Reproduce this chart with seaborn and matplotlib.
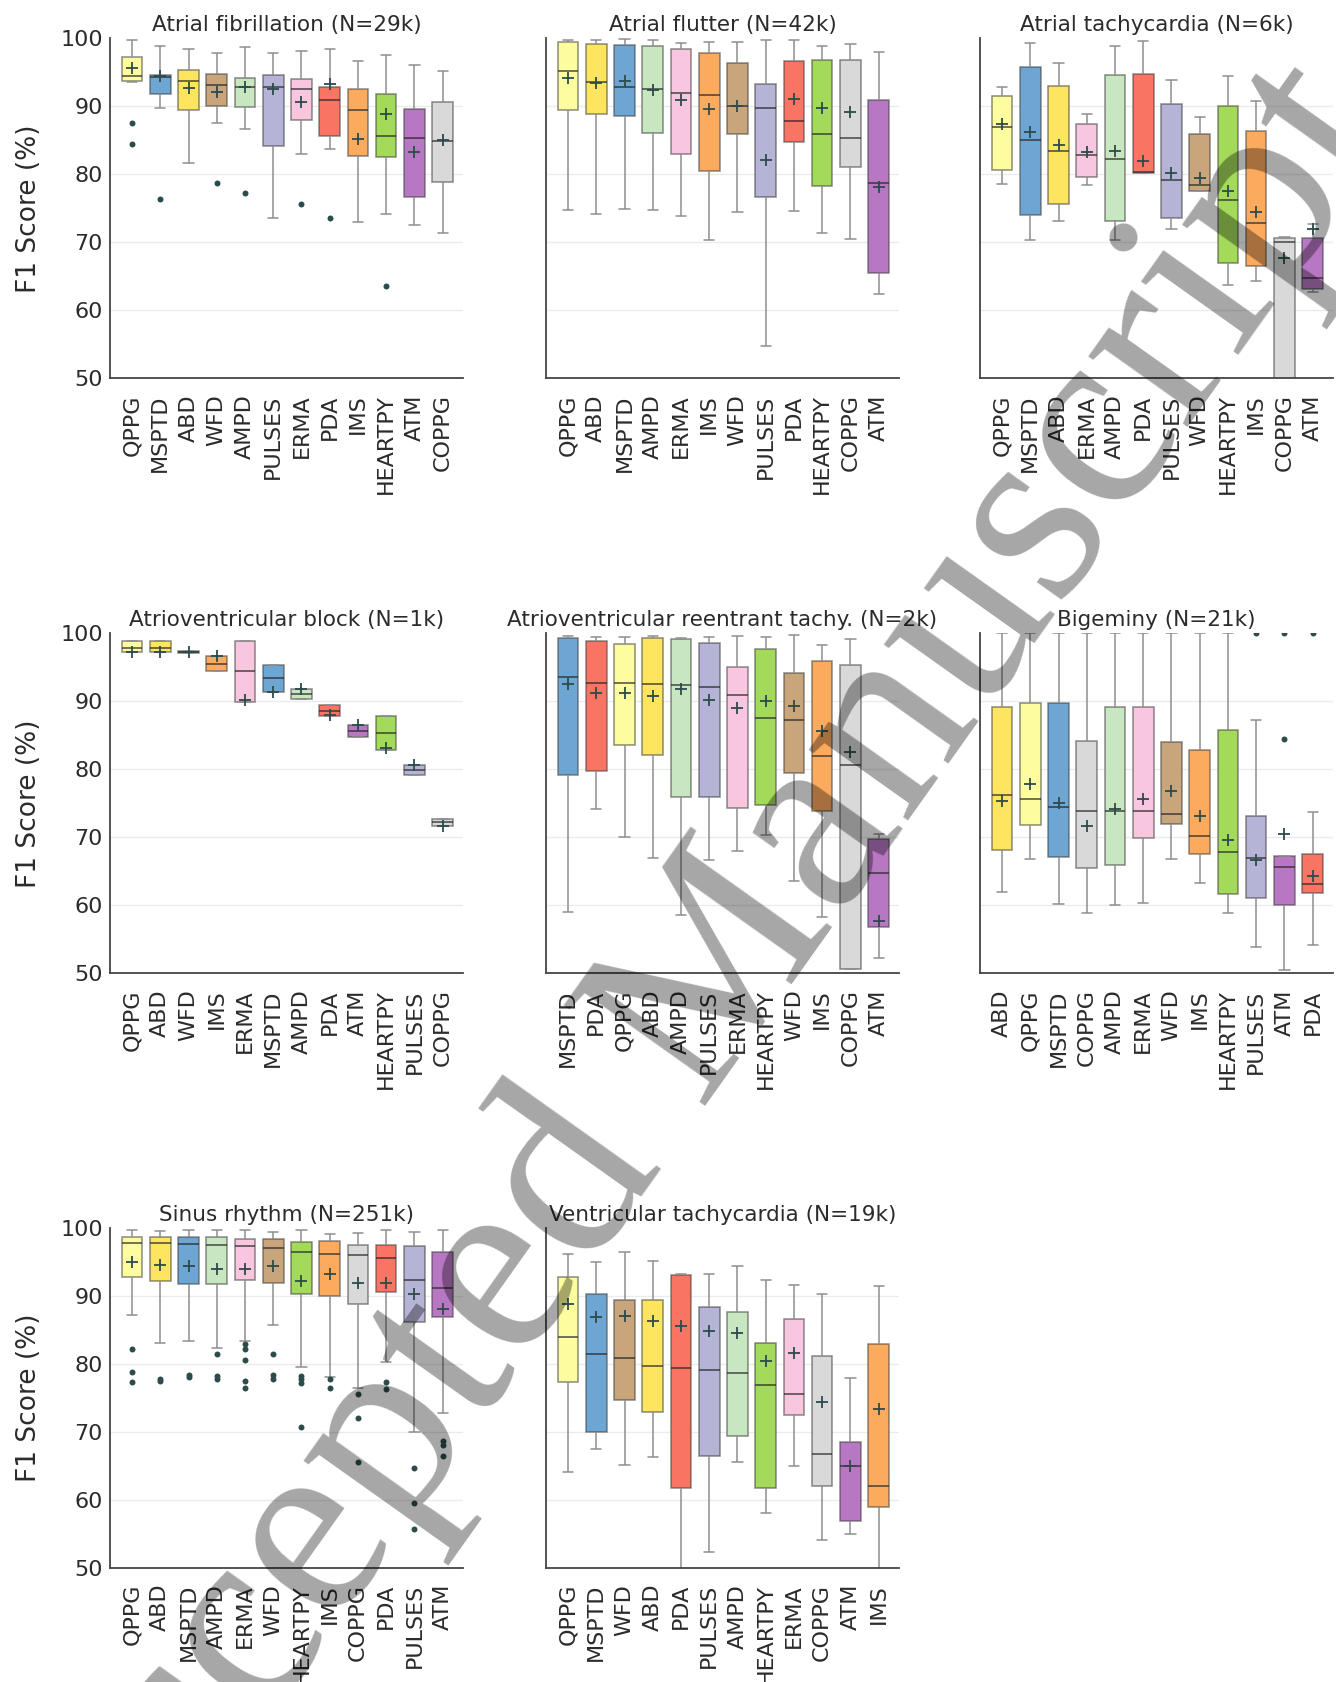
import numpy as np
import pandas as pd
import matplotlib
matplotlib.use("Agg")
import matplotlib.pyplot as plt
import seaborn as sns

# ---------------- colours per method ----------------
METHOD_COLORS = {
    "QPPG": "#fdfd9f", "MSPTD": "#6da5d3", "ABD": "#fde55f", "WFD": "#c9a57c",
    "AMPD": "#c8e6c0", "PULSES": "#b5b3d6", "ERMA": "#f9c6df", "PDA": "#fa7464",
    "IMS": "#fcab5e", "HEARTPY": "#a4da5a", "ATM": "#b877c2", "COPPG": "#d9d9d9",
}

# ---------------- data: five-number summaries [low whisker, Q1, median, Q3, high whisker] ----------------
AF_TITLE = "Atrial fibrillation (N=29k)"
AF_ORDER = ["QPPG", "MSPTD", "ABD", "WFD", "AMPD", "PULSES", "ERMA", "PDA", "IMS", "HEARTPY", "ATM", "COPPG"]
AF_STATS = [[93.6, 93.7, 94.5, 97.2, 99.75], [89.7, 91.8, 94.3, 94.6, 98.8], [81.6, 89.5, 93.7, 95.4, 98.5],
            [87.5, 90.0, 93.2, 94.7, 97.8], [86.6, 89.9, 92.9, 94.2, 98.7], [73.5, 84.1, 92.8, 94.6, 97.8],
            [83.0, 88.0, 92.6, 94.0, 98.2], [83.7, 85.6, 91.0, 92.8, 98.5], [73.0, 82.7, 89.4, 92.5, 96.7],
            [74.1, 82.5, 85.7, 91.8, 97.5], [72.6, 76.6, 85.3, 89.6, 96.1], [71.3, 78.9, 84.9, 90.7, 95.2]]
AF_MEAN = [95.7, 94.4, 92.7, 92.1, 92.8, 92.5, 90.7, 93.3, 85.2, 88.9, 83.3, 85.0]
AF_OUT_M = ["QPPG", "QPPG", "MSPTD", "WFD", "AMPD", "ERMA", "PDA", "HEARTPY"]
AF_OUT_V = [87.6, 84.4, 76.4, 78.7, 77.2, 75.6, 73.5, 63.6]

AFL_TITLE = "Atrial flutter (N=42k)"
AFL_ORDER = ["QPPG", "ABD", "MSPTD", "AMPD", "ERMA", "IMS", "WFD", "PULSES", "PDA", "HEARTPY", "COPPG", "ATM"]
AFL_STATS = [[74.8, 89.5, 95.2, 99.5, 99.75], [74.2, 88.8, 93.6, 99.1, 99.75], [74.95, 88.6, 92.9, 99.0, 99.85],
             [74.7, 86.1, 92.5, 98.8, 99.75], [73.8, 83.0, 91.9, 98.5, 99.3], [70.3, 80.5, 91.6, 97.8, 99.4],
             [74.4, 86.0, 90.0, 96.4, 99.5], [54.8, 76.6, 89.7, 93.3, 99.75], [74.6, 84.7, 87.9, 96.6, 99.75],
             [71.3, 78.3, 85.9, 96.8, 98.9], [70.5, 81.1, 85.3, 96.8, 99.1], [62.4, 65.5, 78.7, 90.9, 98.0]]
AFL_MEAN = [94.1, 93.4, 93.7, 92.4, 91.0, 89.6, 90.0, 82.1, 91.1, 89.7, 89.2, 78.2]
AFL_OUT_M = []
AFL_OUT_V = []

AT_TITLE = "Atrial tachycardia (N=6k)"
AT_ORDER = ["QPPG", "MSPTD", "ABD", "ERMA", "AMPD", "PDA", "PULSES", "WFD", "HEARTPY", "IMS", "COPPG", "ATM"]
AT_STATS = [[78.6, 80.7, 87.0, 91.5, 92.9], [70.3, 74.0, 85.1, 95.8, 99.3], [73.1, 75.7, 83.4, 93.0, 96.3],
            [78.4, 79.6, 82.9, 87.4, 88.9], [70.3, 73.2, 82.2, 94.6, 98.8], [80.2, 80.2, 80.3, 94.8, 99.6],
            [71.9, 73.6, 79.1, 90.3, 93.8], [77.5, 77.6, 78.5, 86.0, 88.4], [63.7, 66.9, 76.2, 90.0, 94.5],
            [64.3, 66.5, 72.9, 86.3, 90.8], [45.0, 48.0, 70.0, 70.7, 70.8], [62.7, 63.1, 64.8, 70.7, 72.7]]
AT_MEAN = [87.4, 86.2, 84.3, 83.3, 83.5, 82.0, 80.2, 79.4, 77.6, 74.4, 67.7, 71.9]
AT_OUT_M = []
AT_OUT_V = []

AVB_TITLE = "Atrioventricular block (N=1k)"
AVB_ORDER = ["QPPG", "ABD", "WFD", "IMS", "ERMA", "MSPTD", "AMPD", "PDA", "ATM", "HEARTPY", "PULSES", "COPPG"]
AVB_STATS = [[97.2, 97.2, 97.9, 98.8, 98.8], [97.2, 97.2, 97.9, 98.8, 98.8], [97.15, 97.15, 97.25, 97.35, 97.35],
             [94.4, 94.4, 95.5, 96.7, 96.7], [89.9, 89.9, 94.4, 98.8, 98.8], [91.3, 91.3, 93.4, 95.3, 95.3],
             [90.3, 90.3, 91.1, 91.8, 91.8], [87.9, 87.9, 88.6, 89.4, 89.4], [84.7, 84.7, 85.6, 86.5, 86.5],
             [82.9, 82.9, 85.4, 87.9, 87.9], [79.2, 79.2, 79.9, 80.6, 80.6], [71.6, 71.6, 72.2, 72.7, 72.7]]
AVB_MEAN = [97.2, 97.2, 97.2, 96.6, 90.2, 91.4, 91.8, 88.0, 86.5, 83.1, 80.6, 71.6]
AVB_OUT_M = []
AVB_OUT_V = []

AVRT_TITLE = "Atrioventricular reentrant tachy. (N=2k)"
AVRT_ORDER = ["MSPTD", "PDA", "QPPG", "ABD", "AMPD", "PULSES", "ERMA", "HEARTPY", "WFD", "IMS", "COPPG", "ATM"]
AVRT_STATS = [[59.0, 79.2, 93.6, 99.3, 99.65], [74.2, 79.8, 92.7, 98.8, 99.4], [70.0, 83.6, 92.7, 98.4, 99.5],
              [66.9, 82.1, 92.5, 99.3, 99.6], [58.6, 75.9, 92.4, 99.1, 99.3], [66.6, 75.9, 92.1, 98.6, 99.5],
              [68.0, 74.3, 90.9, 95.0, 99.65], [70.3, 74.8, 87.5, 97.7, 99.5], [63.6, 79.5, 87.3, 94.1, 99.7],
              [58.3, 73.9, 82.0, 96.0, 98.3], [50.6, 50.6, 80.6, 95.3, 99.1], [52.2, 56.8, 64.7, 69.8, 70.5]]
AVRT_MEAN = [92.5, 91.2, 91.2, 90.8, 91.8, 90.2, 89.0, 90.1, 89.3, 85.6, 82.6, 57.7]
AVRT_OUT_M = []
AVRT_OUT_V = []

BIG_TITLE = "Bigeminy (N=21k)"
BIG_ORDER = ["ABD", "QPPG", "MSPTD", "COPPG", "AMPD", "ERMA", "WFD", "IMS", "HEARTPY", "PULSES", "ATM", "PDA"]
BIG_STATS = [[61.9, 68.2, 76.2, 89.1, 100.0], [66.8, 71.8, 75.7, 89.7, 100.0], [60.2, 67.1, 74.5, 89.7, 100.0],
             [58.9, 65.5, 73.9, 84.2, 100.0], [60.1, 66.0, 73.9, 89.2, 100.0], [60.3, 69.9, 73.8, 89.1, 100.0],
             [66.8, 71.9, 73.5, 84.0, 100.0], [63.3, 67.6, 70.2, 82.8, 100.0], [58.8, 61.7, 67.8, 85.8, 100.0],
             [53.9, 61.1, 67.0, 73.2, 87.2], [50.5, 60.0, 65.7, 67.3, 67.3], [54.2, 61.8, 63.1, 67.6, 73.7]]
BIG_MEAN = [75.4, 77.9, 75.0, 71.6, 74.2, 75.6, 76.8, 73.2, 69.6, 66.6, 70.5, 64.3]
BIG_OUT_M = ["PULSES", "ATM", "ATM", "PDA"]
BIG_OUT_V = [100.0, 84.5, 100.0, 100.0]

SR_TITLE = "Sinus rhythm (N=251k)"
SR_ORDER = ["QPPG", "ABD", "MSPTD", "AMPD", "ERMA", "WFD", "HEARTPY", "IMS", "COPPG", "PDA", "PULSES", "ATM"]
SR_STATS = [[87.1, 92.8, 97.7, 98.7, 99.7], [83.0, 92.2, 97.7, 98.7, 99.5], [83.4, 91.7, 97.6, 98.7, 99.7],
            [82.3, 91.7, 97.5, 98.7, 99.7], [83.4, 92.3, 97.3, 98.3, 99.7], [85.7, 91.8, 97.0, 98.4, 99.4],
            [79.5, 90.2, 96.5, 97.9, 99.6], [78.0, 90.0, 96.1, 98.0, 99.1], [76.5, 88.8, 96.0, 97.4, 99.2],
            [80.2, 90.5, 95.6, 97.5, 99.6], [69.9, 86.1, 92.3, 97.3, 99.4], [72.7, 86.9, 91.1, 96.5, 99.7]]
SR_MEAN = [95.0, 94.5, 94.3, 94.0, 93.9, 94.3, 92.2, 93.2, 91.9, 91.9, 90.2, 88.0]
SR_OUT_M = ["QPPG"] * 3 + ["ABD"] * 2 + ["MSPTD"] * 2 + ["AMPD"] * 3 + ["ERMA"] * 5 + ["WFD"] * 3 + \
           ["HEARTPY"] * 4 + ["IMS"] * 2 + ["COPPG"] * 3 + ["PDA"] * 2 + ["PULSES"] * 3 + ["ATM"] * 3
SR_OUT_V = [82.1, 78.8, 77.3, 77.8, 77.4, 78.4, 78.0, 81.4, 78.2, 77.8, 82.9, 82.2, 80.5, 77.5, 76.4,
            81.4, 78.4, 77.8, 78.2, 77.8, 77.1, 70.7, 77.8, 76.4, 75.5, 72.0, 65.5, 77.3, 76.3,
            64.7, 59.5, 55.7, 68.6, 68.1, 66.4]

VT_TITLE = "Ventricular tachycardia (N=19k)"
VT_ORDER = ["QPPG", "MSPTD", "WFD", "ABD", "PDA", "PULSES", "AMPD", "HEARTPY", "ERMA", "COPPG", "ATM", "IMS"]
VT_STATS = [[64.1, 77.3, 84.0, 92.8, 96.2], [67.4, 69.9, 81.5, 90.2, 94.9], [65.1, 74.6, 80.8, 89.3, 96.5],
            [66.3, 72.9, 79.6, 89.4, 95.1], [48.0, 61.7, 79.4, 93.0, 93.2], [52.3, 66.4, 79.1, 88.3, 93.2],
            [65.6, 69.3, 78.6, 87.6, 94.4], [58.1, 61.7, 76.8, 83.1, 92.3], [64.9, 72.4, 75.5, 86.6, 91.6],
            [54.1, 62.0, 66.7, 81.2, 90.3], [55.0, 56.8, 64.9, 68.5, 77.9], [48.0, 59.0, 62.0, 82.9, 91.4]]
VT_MEAN = [88.8, 86.9, 87.0, 86.3, 85.5, 84.8, 84.5, 80.4, 81.6, 74.4, 64.9, 73.3]
VT_OUT_M = []
VT_OUT_V = []

Y_TICKS = [50, 60, 70, 80, 90, 100]
Y_LABEL = "F1 Score (%)"
WATERMARK = "Accepted Manuscript"

# ---------------- styling / layout ----------------
sns.set_style("white")
plt.rcParams["font.family"] = ["DejaVu Sans"]
TEXT = "#2b2b2b"
W, H = 1336, 1682
fig = plt.figure(figsize=(W / 100, H / 100), dpi=100)

COL_LEFT = [110, 546, 980]
ROW_TOP = [38.3, 633.3, 1227.7]
AX_W, AX_H = 353, 340

panels = [
    (AF_TITLE, AF_ORDER, AF_STATS, AF_MEAN, AF_OUT_M, AF_OUT_V, 0, 0),
    (AFL_TITLE, AFL_ORDER, AFL_STATS, AFL_MEAN, AFL_OUT_M, AFL_OUT_V, 0, 1),
    (AT_TITLE, AT_ORDER, AT_STATS, AT_MEAN, AT_OUT_M, AT_OUT_V, 0, 2),
    (AVB_TITLE, AVB_ORDER, AVB_STATS, AVB_MEAN, AVB_OUT_M, AVB_OUT_V, 1, 0),
    (AVRT_TITLE, AVRT_ORDER, AVRT_STATS, AVRT_MEAN, AVRT_OUT_M, AVRT_OUT_V, 1, 1),
    (BIG_TITLE, BIG_ORDER, BIG_STATS, BIG_MEAN, BIG_OUT_M, BIG_OUT_V, 1, 2),
    (SR_TITLE, SR_ORDER, SR_STATS, SR_MEAN, SR_OUT_M, SR_OUT_V, 2, 0),
    (VT_TITLE, VT_ORDER, VT_STATS, VT_MEAN, VT_OUT_M, VT_OUT_V, 2, 1),
]

MARK = "#2c4b4b"

for title, order, stats, means, out_m, out_v, r, c in panels:
    left, top = COL_LEFT[c], ROW_TOP[r]
    ax = fig.add_axes([left / W, 1 - (top + AX_H) / H, AX_W / W, AX_H / H])

    for g in [60, 70, 80, 90]:
        ax.axhline(g, color="#ebebeb", lw=1.0, zorder=0)

    df = pd.DataFrame({
        "method": [m for m, s in zip(order, stats) for _ in s],
        "value": [v for s in stats for v in s],
    })
    sns.boxplot(data=df, x="method", y="value", hue="method", order=order, hue_order=order,
                palette=METHOD_COLORS, saturation=1, whis=(0, 100), showfliers=False,
                width=0.73, linewidth=1.1, linecolor=(0.25, 0.25, 0.25, 0.6), legend=False, ax=ax,
                whiskerprops={"color": "#8e8e8e", "linewidth": 1.1},
                capprops={"color": "#8e8e8e", "linewidth": 1.1},
                medianprops={"color": (0.15, 0.15, 0.15, 0.7), "linewidth": 1.3})

    sns.pointplot(x=order, y=means, order=order, linestyle="none", marker="+",
                  color=MARK, markersize=9, markeredgewidth=1.3, errorbar=None, ax=ax, zorder=6)

    if out_m:
        sns.stripplot(x=out_m, y=out_v, order=order, jitter=False, color=MARK, size=4.3,
                      linewidth=0, ax=ax, zorder=6)

    ax.set_xlim(-0.78, 11.72)
    ax.set_ylim(50, 100)
    ax.set_yticks(Y_TICKS)
    ax.set_xlabel("")
    if c == 0:
        ax.set_ylabel(Y_LABEL, fontsize=19, color=TEXT)
        ax.yaxis.set_label_coords(-0.193, 0.5)
        ax.set_yticklabels([str(t) for t in Y_TICKS])
    else:
        ax.set_ylabel("")
        ax.set_yticklabels([])
    ax.set_title(title, fontsize=15.5, color=TEXT, pad=5)

    for side in ["top", "right"]:
        ax.spines[side].set_visible(False)
    for side in ["left", "bottom"]:
        ax.spines[side].set_color("#444444")
        ax.spines[side].set_linewidth(1.3)
    ax.tick_params(axis="x", length=3.6, width=1.0, color="#555555", pad=8,
                   labelsize=16, labelcolor=TEXT, labelrotation=90)
    ax.tick_params(axis="y", length=3.6, width=1.0, color="#555555", pad=1.5,
                   labelsize=16, labelcolor=TEXT)
    ax.grid(False)

# watermark overlay
fig.text(1398 / W, 1 - 132 / H, WATERMARK, rotation=54.6, rotation_mode="anchor",
         ha="right", va="baseline", fontsize=190, family="Liberation Serif",
         color="black", alpha=0.35, zorder=10)

fig.savefig("out.png", dpi=100)
